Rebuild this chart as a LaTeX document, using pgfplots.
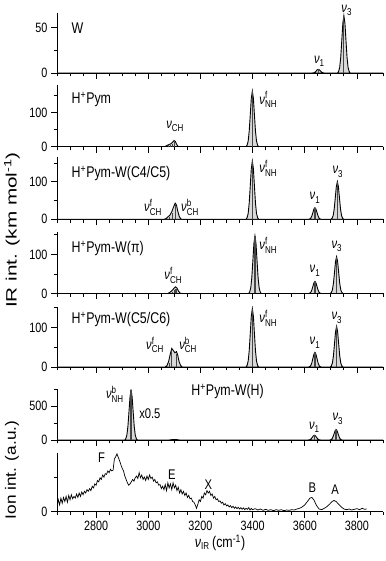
\documentclass[border=0pt]{standalone}
\usepackage{fontspec}
\setmainfont{Liberation Sans}[FakeStretch=0.8]
\newfontfamily\rotfont{Liberation Sans}[FakeStretch=1.15]
\newfontfamily\rotfontb{Liberation Sans}[FakeStretch=1.38]
\usepackage{pgfplots}
\pgfplotsset{compat=1.18}

\newcommand{\lab}{\fontsize{15.5}{15.5}\selectfont}
\newcommand{\nl}{\fontsize{14}{14}\selectfont}
\newcommand{\sm}{\fontsize{10}{10}\selectfont}
\newcommand{\nuf}[2]{\textit{ν}\ensuremath{^{\mbox{\sm #1}}_{\mbox{\sm #2}}}}
\newcommand{\Hp}{H\textsuperscript{+}}

\pgfplotsset{
  panel/.style={
    scale only axis, width=326pt,
    xmin=2650, xmax=3900, ymin=0,
    axis x line*=bottom, axis y line*=left,
    axis line style={line width=0.9pt},
    tick style={line width=0.8pt, black},
    tick align=outside,
    major tick length=6pt, minor tick length=3.5pt,
    xtick={2800,3000,...,3800},
    minor xtick={2650,2700,...,3900},
    xticklabels={},
    tick label style={font=\fontsize{13.5}{14}\selectfont},
    /pgf/number format/assume math mode=true,
    /pgf/number format/1000 sep={},
    clip mode=individual,
    anchor=south west,
  },
  env/.style={draw=black, line width=0.9pt, fill=gray!30},
  stk/.style={ycomb, draw=gray!55!black, line width=1.2pt, no markers},
}

\begin{document}
\begin{tikzpicture}
\useasboundingbox (0,0) rectangle (385pt,561pt);

% W
\begin{axis}[panel, at={(57pt,488pt)}, height=60pt, ymax=66,
  ytick={0,50}, minor ytick={25}]
\addplot[env] coordinates {
  (2650,0)(3628,0)(3632,0.1)(3636,0.4)(3640,1.1)(3644,2.3)(3648,3.5)(3652,4)
  (3656,3.5)(3660,2.3)(3664,1.1)(3668,0.4)(3672,0.1)(3676,0)
  (3726,0)(3730,1.9)(3734,6.3)(3738,17.6)(3742,35.9)(3746,54.8)(3750,63)
  (3754,54.8)(3758,35.9)(3762,17.6)(3766,6.3)(3770,1.9)(3774,0)(3900,0)
} \closedcycle;
\addplot[stk] coordinates {(3652,4)(3750,63)};
\node[anchor=west, font=\lab] at (axis cs:2693,49) {W};
\node[font=\nl] at (axis cs:3656,13) {\nuf{}{1}};
\node[font=\nl] at (axis cs:3761,69) {\nuf{}{3}};
\end{axis}

% H+Pym
\begin{axis}[panel, at={(57pt,414.3pt)}, height=61.7pt, ymax=180,
  ytick={0,100}, minor ytick={50,150}]
\addplot[env] coordinates {
  (2650,0)(3062,0)(3068,2)(3075,5)(3082,7)(3088,9)(3093,13)(3099,18)
  (3104,15)(3108,8)(3113,2)(3118,0)
  (3375,0)(3379,4.9)(3383,16.2)(3387,45.4)(3391,92.3)(3395,141)(3399,162)
  (3403,141)(3407,92.3)(3411,45.4)(3415,16.2)(3419,4.9)(3423,0)(3900,0)
} \closedcycle;
\addplot[stk] coordinates {(3078,4)(3086,6)(3093,9)(3099,14)(3399,162)};
\node[anchor=west, font=\lab] at (axis cs:2693,137) {\Hp Pym};
\node[font=\nl] at (axis cs:3103,59) {\nuf{}{CH}};
\node[font=\nl] at (axis cs:3460,137) {\nuf{f}{NH}};
\end{axis}

% H+Pym-W(C4/C5)
\begin{axis}[panel, at={(57pt,341.7pt)}, height=62.3pt, ymax=166,
  ytick={0,100}, minor ytick={50,150}]
\addplot[env] coordinates {
  (2650,0)(3060,0)(3068,2)(3076,7)(3083,11)(3090,20)(3097,33)(3103,43)
  (3108,38)(3113,22)(3119,7)(3125,1)(3130,0)
  (3375,0)(3379,4.7)(3383,15.5)(3387,43.4)(3391,88.4)(3395,134.9)(3399,155)
  (3403,134.9)(3407,88.4)(3411,43.4)(3415,15.5)(3419,4.7)(3423,0)
  (3615,0)(3619,0.9)(3623,3.1)(3627,8.7)(3631,17.7)(3635,27)(3639,31)
  (3643,27)(3647,17.7)(3651,8.7)(3655,3.1)(3659,0.9)(3663,0)
  (3701,0)(3705,3)(3709,10)(3713,28)(3717,57)(3721,87)(3725,100)
  (3729,87)(3733,57)(3737,28)(3741,10)(3745,3)(3749,0)(3900,0)
} \closedcycle;
\addplot[stk] coordinates {(3080,6)(3092,16)(3103,38)(3399,155)(3639,31)(3725,100)};
\node[anchor=west, font=\lab] at (axis cs:2693,122) {\Hp Pym-W(C4/C5)};
\node[font=\nl] at (axis cs:3018,32) {\nuf{f}{CH}};
\node[font=\nl] at (axis cs:3160,32) {\nuf{b}{CH}};
\node[font=\nl] at (axis cs:3460,136) {\nuf{f}{NH}};
\node[font=\nl] at (axis cs:3639,57) {\nuf{}{1}};
\node[font=\nl] at (axis cs:3727,127) {\nuf{}{3}};
\end{axis}

% H+Pym-W(pi)
\begin{axis}[panel, at={(57pt,267.5pt)}, height=61.8pt, ymax=158,
  ytick={0,100}, minor ytick={50,150}]
\addplot[env] coordinates {
  (2650,0)(3075,0)(3083,3)(3090,7)(3097,12)(3104,17)(3110,14)(3116,6)(3122,1)(3128,0)
  (3385,0)(3389,4.4)(3393,14.7)(3397,41.2)(3401,83.8)(3405,127.9)(3409,147)
  (3413,127.9)(3417,83.8)(3421,41.2)(3425,14.7)(3429,4.4)(3433,0)
  (3615,0)(3619,0.9)(3623,3.1)(3627,8.7)(3631,17.7)(3635,27)(3639,31)
  (3643,27)(3647,17.7)(3651,8.7)(3655,3.1)(3659,0.9)(3663,0)
  (3698,0)(3702,2.8)(3706,9.4)(3710,26.3)(3714,53.6)(3718,81.8)(3722,94)
  (3726,81.8)(3730,53.6)(3734,26.3)(3738,9.4)(3742,2.8)(3746,0)(3900,0)
} \closedcycle;
\addplot[stk] coordinates {(3092,5)(3100,8)(3106,12)(3409,147)(3639,31)(3722,94)};
\node[anchor=west, font=\lab] at (axis cs:2693,116) {\Hp Pym-W(π)};
\node[font=\nl] at (axis cs:3096,47) {\nuf{f}{CH}};
\node[font=\nl] at (axis cs:3460,124) {\nuf{f}{NH}};
\node[font=\nl] at (axis cs:3639,58) {\nuf{}{1}};
\node[font=\nl] at (axis cs:3723,120) {\nuf{}{3}};
\end{axis}

% H+Pym-W(C5/C6)
\begin{axis}[panel, at={(57pt,194pt)}, height=60.3pt, ymax=153,
  ytick={0,100}, minor ytick={50,150}]
\addplot[env] coordinates {
  (2650,0)(3065,0)(3072,4)(3078,14)(3084,32)(3090,47)(3096,42)(3102,36)
  (3108,39)(3113,30)(3118,14)(3124,4)(3130,0)
  (3375,0)(3379,4.4)(3383,14.8)(3387,41.4)(3391,84.4)(3395,128.8)(3399,148)
  (3403,128.8)(3407,84.4)(3411,41.4)(3415,14.8)(3419,4.4)(3423,0)
  (3615,0)(3619,1.1)(3623,3.7)(3627,10.4)(3631,21.1)(3635,32.2)(3639,37)
  (3643,32.2)(3647,21.1)(3651,10.4)(3655,3.7)(3659,1.1)(3663,0)
  (3698,0)(3702,3.1)(3706,10.3)(3710,28.8)(3714,58.7)(3718,89.6)(3722,103)
  (3726,89.6)(3730,58.7)(3734,28.8)(3738,10.3)(3742,3.1)(3746,0)(3900,0)
} \closedcycle;
\addplot[stk] coordinates {(3082,10)(3090,40)(3107,32)(3399,148)(3639,37)(3722,103)};
\node[anchor=west, font=\lab] at (axis cs:2693,120) {\Hp Pym-W(C5/C6)};
\node[font=\nl] at (axis cs:3026,56) {\nuf{f}{CH}};
\node[font=\nl] at (axis cs:3153,56) {\nuf{b}{CH}};
\node[font=\nl] at (axis cs:3460,124) {\nuf{f}{NH}};
\node[font=\nl] at (axis cs:3639,62) {\nuf{}{1}};
\node[font=\nl] at (axis cs:3723,124) {\nuf{}{3}};
\end{axis}

% H+Pym-W(H)
\begin{axis}[panel, at={(57pt,121pt)}, height=50.7pt, ymax=750,
  ytick={0,500}, minor ytick={250,750}]
\addplot[env] coordinates {
  (2650,0)(2910,0)(2914,22)(2918,73.6)(2922,206)(2926,419.5)(2930,640)(2934,736)
  (2938,640)(2942,419.5)(2946,206)(2950,73.6)(2954,22)(2958,0)
  (3080,0)(3090,5)(3100,8)(3110,5)(3120,0)
  (3613,0)(3617,2.1)(3621,7)(3625,19.6)(3629,40)(3633,61)(3637,70)
  (3641,61)(3645,40)(3649,19.6)(3653,7)(3657,2.1)(3661,0)
  (3696,0)(3700,4.7)(3704,15.5)(3708,43.4)(3712,88.4)(3716,134.9)(3720,155)
  (3724,134.9)(3728,88.4)(3732,43.4)(3736,15.5)(3740,4.7)(3744,0)(3900,0)
} \closedcycle;
\addplot[stk] coordinates {(2934,736)(3637,70)(3720,155)};
\node[anchor=west, font=\lab] at (axis cs:3152,715) {\Hp Pym-W(H)};
\node[font=\nl] at (axis cs:2872,680) {\nuf{b}{NH}};
\node[font=\nl] at (axis cs:3006,385) {x0.5};
\node[font=\nl] at (axis cs:3637,190) {\nuf{}{1}};
\node[font=\nl] at (axis cs:3727,313) {\nuf{}{3}};
\end{axis}

% experiment
\begin{axis}[panel, at={(57pt,49.3pt)}, height=58.4pt, ymax=1.72,
  ytick={0}, minor ytick={1}, xticklabels={2800,3000,3200,3400,3600,3800}]
\addplot[black, line width=0.7pt] coordinates {
  (2650,0.15)(2655,0.35)(2660,0.2)(2665,0.4)(2670,0.25)(2675,0.42)(2680,0.3)
  (2685,0.45)(2690,0.28)(2695,0.48)(2700,0.35)(2705,0.5)(2710,0.38)(2715,0.45)
  (2720,0.4)(2725,0.52)(2730,0.42)(2735,0.55)(2740,0.45)(2745,0.58)(2750,0.5)
  (2755,0.6)(2760,0.55)(2765,0.65)(2770,0.6)(2775,0.68)(2780,0.62)(2785,0.75)
  (2790,0.7)(2795,0.82)(2800,0.78)(2805,0.92)(2810,0.88)(2815,1.0)(2820,0.95)
  (2825,1.08)(2830,1.02)(2835,1.12)(2840,1.1)(2845,1.2)(2850,1.15)(2855,1.25)
  (2860,1.2)(2865,1.22)(2870,1.55)(2875,1.62)(2880,1.7)(2885,1.6)(2890,1.5)
  (2895,1.38)(2900,1.28)(2905,1.2)(2910,1.05)(2915,0.95)(2920,0.85)(2925,0.78)
  (2930,0.82)(2935,0.88)(2940,0.95)(2945,0.9)(2950,1.0)(2955,1.05)(2960,0.98)
  (2965,1.15)(2970,1.0)(2975,1.08)(2980,0.95)(2985,1.02)(2990,0.92)(2995,1.05)
  (3000,0.95)(3005,1.08)(3010,0.98)(3015,1.02)(3020,0.9)(3025,0.95)(3030,0.85)
  (3035,0.88)(3040,0.78)(3045,0.8)(3050,0.68)(3055,0.75)(3060,0.65)(3065,0.8)
  (3070,0.62)(3075,0.85)(3080,0.7)(3085,0.82)(3090,0.65)(3095,0.85)(3100,0.7)
  (3105,0.78)(3110,0.62)(3115,0.72)(3120,0.55)(3125,0.65)(3130,0.52)(3135,0.6)
  (3140,0.48)(3145,0.55)(3150,0.42)(3155,0.48)(3160,0.38)(3165,0.4)(3170,0.3)
  (3175,0.28)(3180,0.2)(3185,0.1)(3190,0.22)(3195,0.35)(3200,0.3)(3205,0.45)
  (3210,0.4)(3215,0.55)(3220,0.5)(3225,0.62)(3230,0.55)(3235,0.6)(3240,0.48)
  (3245,0.52)(3250,0.4)(3255,0.45)(3260,0.35)(3265,0.38)(3270,0.3)(3275,0.32)
  (3280,0.25)(3285,0.28)(3290,0.2)(3295,0.24)(3300,0.17)(3305,0.2)(3310,0.14)
  (3315,0.18)(3320,0.12)(3325,0.16)(3330,0.1)(3335,0.14)(3340,0.09)(3345,0.13)
  (3350,0.08)(3355,0.12)(3360,0.07)(3365,0.11)(3370,0.06)(3375,0.1)(3380,0.07)
  (3385,0.12)(3390,0.05)(3395,0.1)(3400,0.06)(3410,0.09)(3420,0.05)(3430,0.08)
  (3440,0.04)(3450,0.07)(3460,0.04)(3470,0.06)(3480,0.03)(3490,0.06)(3500,0.04)
  (3510,0.06)(3520,0.03)(3530,0.05)(3540,0.04)(3550,0.06)(3560,0.05)(3570,0.08)
  (3580,0.1)(3590,0.14)(3600,0.2)(3610,0.3)(3620,0.4)(3627,0.42)(3635,0.35)
  (3645,0.18)(3655,0.08)(3665,0.06)(3675,0.1)(3685,0.15)(3695,0.22)(3705,0.3)
  (3712,0.33)(3720,0.3)(3730,0.22)(3740,0.14)(3750,0.08)(3760,0.06)(3770,0.08)
  (3780,0.05)(3790,0.07)(3800,0.09)(3810,0.06)(3820,0.1)(3830,0.07)(3837,0.08)
};
\node[font=\nl] at (axis cs:2821,1.58) {F};
\node[font=\nl] at (axis cs:3090,1.08) {E};
\node[font=\nl] at (axis cs:3230,0.8) {X};
\node[font=\nl] at (axis cs:3629,0.7) {B};
\node[font=\nl] at (axis cs:3716,0.66) {A};
\end{axis}

\node[font=\lab] at (220pt,18pt) {\textit{ν}\ensuremath{_{\mbox{\sm IR}}}\,(cm\textsuperscript{-1})};
\node[rotate=90, font=\rotfontb\fontsize{15}{15}\selectfont] at (12pt,331pt) {IR int. (km mol\textsuperscript{-1})};
\node[rotate=90, font=\rotfont\fontsize{15}{15}\selectfont] at (12pt,91pt) {Ion int. (a.u.)};
\end{tikzpicture}
\end{document}
